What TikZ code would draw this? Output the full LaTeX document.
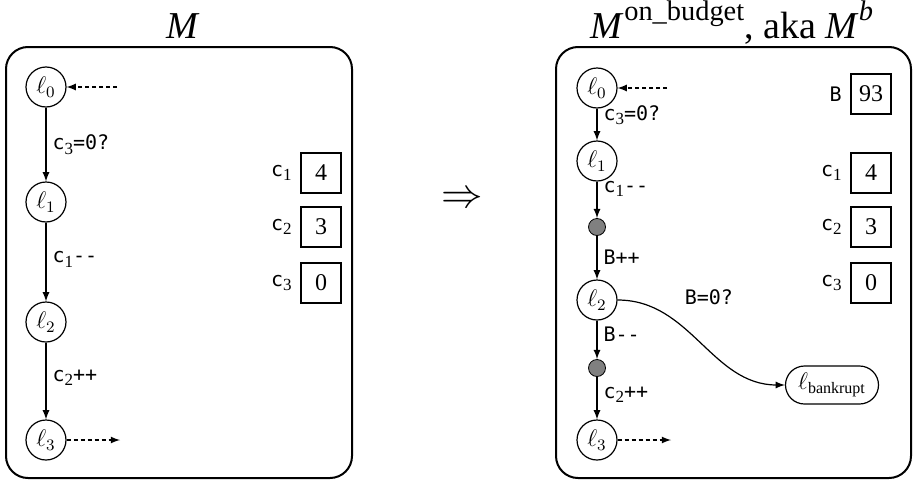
\documentclass[tikz,border=0pt]{standalone}
\usepackage{amsmath}
\usepackage{fontspec}
\setmainfont{Liberation Serif}
\setmonofont{DejaVu Sans Mono}
\usetikzlibrary{arrows}

\newcommand{\regc}[1]{\texttt{c}\raisebox{-2.3pt}{\fontsize{8.5}{9}\rmfamily #1}}
\newcommand{\supx}[1]{\raisebox{9pt}{\fontsize{14.2}{16}\selectfont #1}}

\tikzset{
  every node/.style={font=\fontsize{12}{14}\selectfont},
  machine/.style={line width=1pt, rounded corners=11pt},
  loc/.style={circle, draw, semithick, minimum size=20pt, inner sep=0pt},
  midpt/.style={circle, draw, fill=gray, minimum size=8.5pt, inner sep=0pt},
  bank/.style={draw, semithick, rounded corners=9.5pt, minimum height=19pt,
    minimum width=46.5pt, inner sep=1pt},
  regbox/.style={draw, line width=1pt, minimum size=20pt, inner sep=0pt},
  trans/.style={->, semithick},
  free/.style={->, semithick, dash pattern=on 2pt off 1.5pt},
  lab/.style={right, inner sep=3pt, font=\fontsize{10}{12}\selectfont},
  ttl/.style={anchor=base, font=\fontsize{19}{22}\selectfont}
}

\begin{document}
\begin{tikzpicture}[x=0.5pt,y=-0.5pt,>=latex]
\useasboundingbox (0,0) rectangle (914,482);

% M
\draw[machine] (6,47) rectangle (352,478);
\node[ttl] (tA) at (183,38) {\textit{M}};
\node[loc] (a0) at (46,87) {$\ell_0$};
\node[loc] (a1) at (46,202) {$\ell_1$};
\node[loc] (a2) at (46,322) {$\ell_2$};
\node[loc] (a3) at (46,440) {$\ell_3$};
\coordinate (ain) at (117,87);
\coordinate (aout) at (120,440);
\draw[free] (ain) -- (a0);
\draw[free] (a3) -- (aout);
\draw[trans] (a0) -- node[lab,pos=.5]{\regc{3}\texttt{=0?}} (a1);
\draw[trans] (a1) -- node[lab,pos=.47]{\regc{1}\texttt{--}} (a2);
\draw[trans] (a2) -- node[lab,pos=.46]{\regc{2}\texttt{++}} (a3);

\node[font=\fontsize{20.7}{24}\selectfont] (impl) at (462,200) {$\Rightarrow$};

% M^b
\draw[machine] (556,47) rectangle (911,478);
\node[ttl] (tB) at (732,38) {\textit{M}\supx{on\_budget}, aka \textit{M}\supx{\textit{b}}};
\node[loc] (b0) at (597,88) {$\ell_0$};
\node[loc] (b1) at (597,161) {$\ell_1$};
\node[midpt] (d1) at (597,227) {};
\node[loc] (b2) at (597,300) {$\ell_2$};
\node[midpt] (d2) at (597,368) {};
\node[loc] (b3) at (597,440) {$\ell_3$};
\node[bank] (bk) at (832,385) {$\ell_{\text{bankrupt}}$};
\coordinate (bin) at (667,88);
\coordinate (bout) at (671,440);
\draw[free] (bin) -- (b0);
\draw[free] (b3) -- (bout);
\draw[trans] (b0) -- node[lab,pos=.2]{\regc{3}\texttt{=0?}} (b1);
\draw[trans] (b1) -- node[lab,pos=.2]{\regc{1}\texttt{--}} (d1);
\draw[trans] (d1) -- node[lab,pos=.48]{\texttt{B++}} (b2);
\draw[trans] (b2) -- node[lab,pos=.35]{\texttt{B--}} (d2);
\draw[trans] (d2) -- node[lab,pos=.42]{\regc{2}\texttt{++}} (b3);
\draw[trans] (b2) to[out=0,in=180]
  node[lab, pos=.3, anchor=south west, xshift=3pt, yshift=3.5pt]{\texttt{B=0?}} (bk);

% registers
\node[regbox] (rB) at (871,94) {93};
\node[lab, anchor=east, xshift=-1pt] (lB) at (rB.west) {\texttt{B}};
\foreach \m/\x in {a/321, b/871}
  \foreach \n/\v/\y in {1/4/173, 2/3/227, 3/0/283} {
    \node[regbox] (r\m\n) at (\x,\y) {\v};
    \node[lab, anchor=east, xshift=-1pt] (l\m\n) at (r\m\n.west) {\regc{\n}};
  }
\end{tikzpicture}
\end{document}
